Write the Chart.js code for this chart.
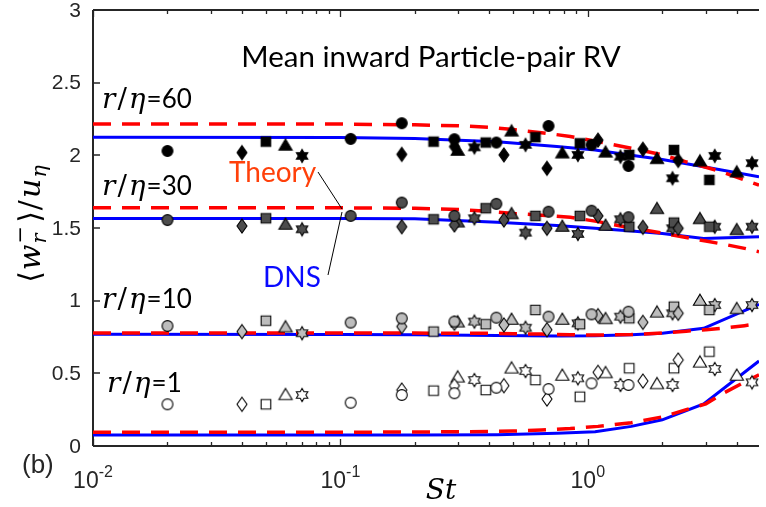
<!DOCTYPE html>
<html>
<head>
<meta charset="utf-8">
<script src="https://cdn.jsdelivr.net/npm/chart.js@4.4.1/dist/chart.umd.min.js"></script>
<style>
  html, body { margin: 0; padding: 0; background: #fff; }
  canvas { display: block; }
</style>
</head>
<body>
<canvas id="rv" width="766" height="507"></canvas>
<script>
// ---- Stokes numbers of the DNS runs, one list per marker shape ----
const stCircle   = [0.02, 0.11, 0.177, 0.289, 0.427, 0.694, 1.035, 1.46];
const stDiamond  = [0.04, 0.177, 0.289, 0.458, 0.684, 1.10, 1.67, 2.32];
const stSquare   = [0.05, 0.238, 0.387, 0.614, 0.929, 1.47, 2.23, 3.10];
const stTriangle = [0.06, 0.298, 0.492, 0.789, 1.18, 1.905, 2.84, 4.0];
const stStar     = [0.07, 0.348, 0.56, 0.912, 1.355, 2.20, 3.26, 4.61];

// ---- DNS mean inward relative velocity, r/eta = 60 ----
const circle60   = [2.03, 2.113, 2.221, 2.111, 2.088, 2.202, 2.072, 1.927];
const diamond60  = [2.019, 2.007, 2.06, 2.003, 1.911, 2.105, 2.042, 1.965];
const square60   = [2.094, 2.094, 2.088, 2.125, 2.083, 2.003, 2.037, 1.831];
const triangle60 = [2.072, 2.037, 2.17, 2.019, 2.025, 1.98, 1.964, 1.888];
const star60     = [1.996, 2.055, 2.072, 2.003, 1.991, 1.842, 1.996, 1.946];

// ---- r/eta = 30 ----
const circle30   = [1.555, 1.583, 1.675, 1.583, 1.666, 1.612, 1.619, 1.574];
const diamond30  = [1.514, 1.509, 1.521, 1.555, 1.498, 1.583, 1.505, 1.498];
const square30   = [1.567, 1.56, 1.636, 1.583, 1.583, 1.509, 1.537, 1.509];
const triangle30 = [1.528, 1.544, 1.601, 1.514, 1.521, 1.636, 1.567, 1.491];
const star30     = [1.491, 1.567, 1.468, 1.459, 1.56, 1.498, 1.509, 1.509];

// ---- r/eta = 10 ----
const circle10   = [0.826, 0.849, 0.878, 0.856, 0.883, 0.89, 0.906, 0.924];
const diamond10  = [0.787, 0.822, 0.845, 0.833, 0.80, 0.897, 0.851, 0.913];
const square10   = [0.862, 0.787, 0.838, 0.936, 0.838, 0.879, 0.959, 0.936];
const triangle10 = [0.822, 0.856, 0.874, 0.874, 0.879, 0.924, 1.005, 0.948];
const star10     = [0.776, 0.856, 0.814, 0.844, 0.89, 0.913, 0.97, 0.97];

// ---- r/eta = 1 ----
const circle1   = [0.287, 0.298, 0.351, 0.363, 0.401, 0.392, 0.431, 0.42];
const diamond1  = [0.287, 0.385, 0.415, 0.415, 0.323, 0.507, 0.447, 0.592];
const square1   = [0.287, 0.381, 0.385, 0.454, 0.339, 0.535, 0.535, 0.649];
const triangle1 = [0.356, 0.477, 0.539, 0.489, 0.507, 0.431, 0.58, 0.489];
const star1     = [0.351, 0.454, 0.516, 0.466, 0.42, 0.42, 0.53, 0.438];

// ---- DNS curves (solid blue) ----
const stDnsCurve = [0.01, 0.1, 0.2, 0.43, 0.75, 1.07, 1.5, 2.0, 2.94, 4.92];
const dns60 = [2.125, 2.122, 2.116, 2.094, 2.06, 2.037, 2.001, 1.971, 1.922, 1.853];
const dns30 = [1.566, 1.566, 1.564, 1.54, 1.518, 1.498, 1.48, 1.462, 1.428, 1.44];
const dns10 = [0.769, 0.768, 0.766, 0.76, 0.757, 0.758, 0.765, 0.776, 0.81, 0.975];
const dns1  = [0.076, 0.076, 0.076, 0.078, 0.087, 0.098, 0.135, 0.18, 0.29, 0.585];

// ---- Theory curves (dashed red) ----
const stTheory = [0.01, 0.1, 0.2, 0.3, 0.4, 0.5, 0.65, 0.85, 1.1, 1.5, 2.0, 2.5, 3.0, 3.5, 4.3, 4.92];
const theory60 = [2.216, 2.215, 2.21, 2.203, 2.193, 2.177, 2.156, 2.13, 2.094, 2.049, 2.003, 1.955, 1.918, 1.885, 1.83, 1.795];
const theory30 = [1.640, 1.639, 1.636, 1.627, 1.615, 1.60, 1.588, 1.574, 1.544, 1.50, 1.465, 1.435, 1.41, 1.39, 1.36, 1.337];
const theory10 = [0.778, 0.778, 0.777, 0.776, 0.775, 0.773, 0.77, 0.766, 0.763, 0.767, 0.778, 0.79, 0.80, 0.81, 0.828, 0.842];
const theory1  = [0.094, 0.095, 0.096, 0.098, 0.1, 0.103, 0.11, 0.12, 0.135, 0.16, 0.2, 0.25, 0.29, 0.36, 0.44, 0.49];

// ---- Axes ----
const yTicks = [0, 0.5, 1, 1.5, 2, 2.5, 3];
const yTickLabels = ['0', '0.5', '1', '1.5', '2', '2.5', '3'];
const xMajorTicks = [0.01, 0.1, 1];
const xMajorExponents = ['-2', '-1', '0'];
const xMin = 0.01, xMax = 4.92;

// ---- Marker sprites (MATLAB-like o, d, s, ^, hexagram) ----
function makeMarker(shape, fill) {
  const c = document.createElement('canvas');
  c.width = 18; c.height = 18;
  const g = c.getContext('2d');
  g.translate(9, 9);
  g.beginPath();
  if (shape === 'circle') {
    g.arc(0, 0, 5.4, 0, Math.PI * 2);
  } else if (shape === 'square') {
    g.rect(-4.8, -4.8, 9.6, 9.6);
  } else if (shape === 'diamond') {
    g.moveTo(0, -7); g.lineTo(5, 0); g.lineTo(0, 7); g.lineTo(-5, 0); g.closePath();
  } else if (shape === 'triangle') {
    g.moveTo(0, -5.8); g.lineTo(6.6, 5.3); g.lineTo(-6.6, 5.3); g.closePath();
  } else if (shape === 'hexagram') {
    const R = 6.6, r = R / Math.sqrt(3);
    for (let k = 0; k < 12; k++) {
      const a = -Math.PI / 2 + k * Math.PI / 6;
      const rad = k % 2 === 0 ? R : r;
      const px = rad * Math.cos(a), py = rad * Math.sin(a);
      if (k === 0) g.moveTo(px, py); else g.lineTo(px, py);
    }
    g.closePath();
  }
  g.fillStyle = fill;
  g.fill();
  g.lineWidth = 1.1;
  g.strokeStyle = '#000';
  g.stroke();
  return c;
}

const pts = (xs, ys) => xs.map((x, i) => ({ x: x, y: ys[i] }));

const groups = [
  { fill: '#000000', sets: [circle60, diamond60, square60, triangle60, star60] },
  { fill: '#4d4d4d', sets: [circle30, diamond30, square30, triangle30, star30] },
  { fill: '#bdbdbd', sets: [circle10, diamond10, square10, triangle10, star10] },
  { fill: '#ffffff', sets: [circle1, diamond1, square1, triangle1, star1] }
];
const shapeNames = ['circle', 'diamond', 'square', 'triangle', 'hexagram'];
const shapeSt = [stCircle, stDiamond, stSquare, stTriangle, stStar];

const datasets = [];
groups.forEach(gr => {
  gr.sets.forEach((vals, k) => {
    datasets.push({
      data: pts(shapeSt[k], vals),
      showLine: false,
      pointStyle: makeMarker(shapeNames[k], gr.fill),
      pointRadius: 6,
      order: 0
    });
  });
});
[theory60, theory30, theory10, theory1].forEach(v => {
  datasets.push({
    data: pts(stTheory, v),
    showLine: true,
    borderColor: '#ff0000',
    borderWidth: 3.5,
    borderDash: [18, 11],
    pointRadius: 0,
    tension: 0,
    order: 1
  });
});
[dns60, dns30, dns10, dns1].forEach(v => {
  datasets.push({
    data: pts(stDnsCurve, v),
    showLine: true,
    borderColor: '#0000ff',
    borderWidth: 3,
    pointRadius: 0,
    tension: 0,
    order: 2
  });
});

// ---- Text helpers ----
const AXIS = '#262626';
const MATH_IT = 'italic 28px "DejaVu Serif"';
const MATH_UP = '28px "DejaVu Serif"';

function drawRuns(ctx, x, y, runs) {
  // runs: {t, font, dy, gap}; drawn left to right from (x, y) baseline
  let cx = x;
  runs.forEach(r => {
    ctx.font = r.font;
    ctx.fillText(r.t, cx, y + (r.dy || 0));
    cx += ctx.measureText(r.t).width + (r.gap || 0);
  });
  return cx - x;
}
function runsWidth(ctx, runs) {
  let w = 0;
  runs.forEach(r => { ctx.font = r.font; w += ctx.measureText(r.t).width + (r.gap || 0); });
  return w;
}

function ratioLabel(ctx, x, y, num) {
  ctx.fillStyle = '#000';
  ctx.textBaseline = 'alphabetic';
  ctx.textAlign = 'left';
  drawRuns(ctx, x, y, [
    { t: 'r', font: MATH_IT, gap: 2 },
    { t: '/', font: MATH_UP, gap: 2 },
    { t: 'η', font: MATH_IT, gap: 1 },
    { t: '=' + num, font: '26px Lato' }
  ]);
}

const framePlugin = {
  id: 'frame',
  beforeDatasetsDraw(chart) {
    const { ctx, chartArea: a } = chart;
    const xs = chart.scales.x, ys = chart.scales.y;
    ctx.save();
    ctx.strokeStyle = AXIS;
    ctx.lineWidth = 2;
    ctx.beginPath();
    ctx.moveTo(a.left, a.top); ctx.lineTo(a.right, a.top);
    ctx.moveTo(a.left, a.top); ctx.lineTo(a.left, a.bottom);
    ctx.moveTo(a.left, a.bottom); ctx.lineTo(a.right, a.bottom);
    ctx.stroke();

    ctx.lineWidth = 1.3;
    ctx.beginPath();
    // y ticks point inward from the left axis
    yTicks.forEach(v => {
      const py = Math.round(ys.getPixelForValue(v));
      ctx.moveTo(a.left, py); ctx.lineTo(a.left + 7, py);
    });
    // log x ticks: majors and minors on bottom and top
    for (let e = -2; e <= 0; e++) {
      for (let m = 1; m <= 9; m++) {
        const v = m * Math.pow(10, e);
        if (v < xMin || v > xMax) continue;
        const px = Math.round(xs.getPixelForValue(v)) + 0.5;
        const len = m === 1 ? 7 : 4;
        ctx.moveTo(px, a.bottom); ctx.lineTo(px, a.bottom - len);
        ctx.moveTo(px, a.top); ctx.lineTo(px, a.top + len);
      }
    }
    ctx.stroke();
    ctx.restore();
  },
  afterDraw(chart) {
    const { ctx, chartArea: a } = chart;
    const xs = chart.scales.x, ys = chart.scales.y;
    ctx.save();

    // y tick labels
    ctx.fillStyle = AXIS;
    ctx.font = '21px "Liberation Sans"';
    ctx.textAlign = 'right';
    ctx.textBaseline = 'middle';
    yTicks.forEach((v, i) => {
      ctx.fillText(yTickLabels[i], a.left - 12, ys.getPixelForValue(v) + 1);
    });

    // x tick labels: 10 with superscript exponent
    ctx.textAlign = 'left';
    ctx.textBaseline = 'alphabetic';
    xMajorTicks.forEach((v, i) => {
      const runs = [
        { t: '10', font: '23px "Liberation Sans"' },
        { t: xMajorExponents[i], font: '16px "Liberation Sans"', dy: -11 }
      ];
      const w = runsWidth(ctx, runs);
      drawRuns(ctx, xs.getPixelForValue(v) - w / 2, 488, runs);
    });

    // x axis title
    ctx.fillStyle = '#000';
    ctx.font = 'italic 28px "DejaVu Serif"';
    ctx.textAlign = 'center';
    ctx.fillText('St', 441, 499);

    // y axis title, rotated
    ctx.save();
    ctx.translate(40, 224);
    ctx.rotate(-Math.PI / 2);
    ctx.textAlign = 'left';
    const big = 30, small = 21;
    const fUp = big + 'px "DejaVu Serif", "DejaVu Sans"';
    const fIt = 'italic ' + big + 'px "DejaVu Serif"';
    const fSubIt = 'italic ' + small + 'px "DejaVu Serif"';
    const fSubUp = small + 'px "DejaVu Serif", "DejaVu Sans"';
    ctx.font = fSubIt;
    const wr = ctx.measureText('r').width;
    ctx.font = fSubUp;
    const wm = ctx.measureText('−').width;
    const head = [{ t: '⟨', font: fUp, gap: 1 }, { t: 'w', font: fIt, gap: 1 }];
    const tail = [
      { t: '⟩', font: fUp, gap: 1 },
      { t: '/', font: fUp, gap: 2 },
      { t: 'u', font: fIt, gap: 1 },
      { t: 'η', font: fSubIt, dy: 6 }
    ];
    const total = runsWidth(ctx, head) + Math.max(wr, wm) + 3 + runsWidth(ctx, tail);
    let cx = -total / 2;
    cx += drawRuns(ctx, cx, 0, head);
    ctx.font = fSubIt; ctx.fillText('r', cx, 6);
    ctx.font = fSubUp; ctx.fillText('−', cx, -13);
    cx += Math.max(wr, wm) + 3;
    drawRuns(ctx, cx, 0, tail);
    ctx.restore();

    // title
    ctx.fillStyle = '#000';
    ctx.font = '29.5px Lato';
    ctx.textAlign = 'center';
    ctx.fillText('Mean inward Particle-pair RV', 431, 67);

    // separation labels
    ratioLabel(ctx, 102, 108, '60');
    ratioLabel(ctx, 102, 195, '30');
    ratioLabel(ctx, 102, 308, '10');
    ratioLabel(ctx, 107, 392, '1');

    // curve annotations with leader lines
    ctx.font = '28px Lato';
    ctx.textAlign = 'left';
    ctx.fillStyle = '#ff400a';
    ctx.fillText('Theory', 229, 182);
    ctx.fillStyle = '#0a0aff';
    ctx.fillText('DNS', 263, 287);
    ctx.strokeStyle = '#000';
    ctx.lineWidth = 1;
    ctx.beginPath();
    ctx.moveTo(318, 172); ctx.lineTo(342, 209);
    ctx.moveTo(328, 275); ctx.lineTo(342, 212);
    ctx.stroke();

    // panel tag
    ctx.fillStyle = AXIS;
    ctx.font = '26px "Liberation Sans"';
    ctx.textBaseline = 'middle';
    ctx.fillText('(b)', 22, 466);
    ctx.restore();
  }
};

new Chart(document.getElementById('rv'), {
  type: 'scatter',
  data: { datasets: datasets },
  options: {
    responsive: false,
    animation: false,
    events: [],
    layout: { padding: { left: 93, top: 10, right: 0, bottom: 61 } },
    plugins: { legend: { display: false }, tooltip: { enabled: false } },
    scales: {
      x: { type: 'logarithmic', min: xMin, max: xMax, display: false },
      y: { type: 'linear', min: 0, max: 3, display: false }
    }
  },
  plugins: [framePlugin]
});
</script>
</body>
</html>
